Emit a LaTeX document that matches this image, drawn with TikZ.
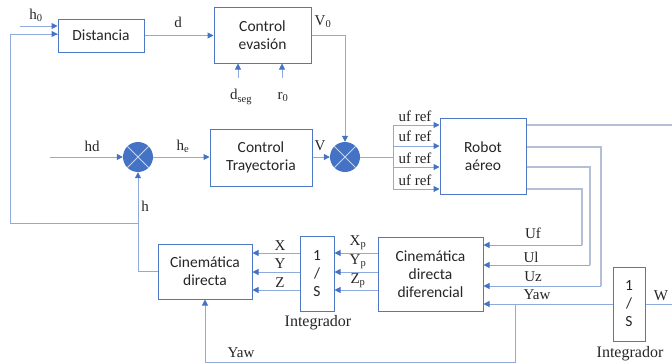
\documentclass[tikz,border=0pt]{standalone}
\usepackage{fontspec}
\setmainfont{Liberation Serif}
\newfontfamily\boxfont{Carlito}
\usetikzlibrary{arrows.meta}
\definecolor{boxblue}{HTML}{4F78C4}
\definecolor{linkblue}{HTML}{8FAADC}
\definecolor{tipblue}{HTML}{4472C4}
\definecolor{outgray}{HTML}{B4BFD6}
\definecolor{txt}{HTML}{262626}
\tikzset{
  x=1pt, y=-1pt,
  blockbox/.style={draw=boxblue, line width=1pt, fill=white, inner sep=0pt,
    align=center, font=\boxfont\fontsize{15.5}{18}\selectfont, text=txt},
  summer/.style={circle, fill=tipblue, minimum size=30pt, inner sep=0pt,
    path picture={\draw[white!70!tipblue, line width=0.8pt]
      (path picture bounding box.north west) -- (path picture bounding box.south east)
      (path picture bounding box.north east) -- (path picture bounding box.south west);}},
  link/.style={draw=linkblue, line width=1pt},
  arr/.style={link, -{Triangle[length=6pt,width=6pt,fill=tipblue,color=tipblue]}},
  outlink/.style={draw=outgray, line width=1.2pt},
  lbl/.style={font=\fontsize{15}{17}\selectfont, text=txt, inner sep=0pt},
}
\begin{document}
\begin{tikzpicture}
\useasboundingbox (0,0) rectangle (672,364);

% blocks
\node[blockbox, minimum width=86pt, minimum height=33pt] (dist) at (101,35.5) {Distancia};
\node[blockbox, minimum width=97pt, minimum height=56pt] (ce) at (262.5,35) {Control\\evasión};
\node[blockbox, minimum width=102pt, minimum height=57pt] (ct) at (261,157.5) {Control\\Trayectoria};
\node[blockbox, minimum width=86pt, minimum height=76pt] (ra) at (483,156) {Robot\\aéreo};
\node[blockbox, minimum width=94pt, minimum height=55pt] (cd) at (205,271.5) {Cinemática\\directa};
\node[blockbox, minimum width=34pt, minimum height=75pt] (i1) at (317,273.5) {1\\/\\S};
\node[blockbox, minimum width=105pt, minimum height=74pt] (df) at (430.5,274) {Cinemática\\directa\\diferencial};
\node[blockbox, minimum width=32pt, minimum height=74pt] (i2) at (629,304) {1\\/\\S};

% summing junctions
\node[summer] (s1) at (138,157) {};
\node[summer] (s2) at (345,157) {};

% free ends of the input and feedback lines
\coordinate (h0s) at (20,26);
\coordinate (hds) at (50,157);
\coordinate (fbl) at (10,223);
\coordinate (dsg) at (238,78);
\coordinate (rzo) at (282,78);
\coordinate (bus) at (393,157);
\coordinate (ybr) at (515,304);
\coordinate (ybot) at (515,362);

% top row
\draw[arr] (h0s) -- (dist.west |- h0s);
\draw[arr] (dist.east) -- (ce.west |- dist.east);
\draw[arr] (ce.east) -| (s2.north);
\draw[arr] (dsg) -- (ce.south -| dsg);
\draw[arr] (rzo) -- (ce.south -| rzo);

% middle row
\draw[arr] (hds) -- (s1.west);
\draw[arr] (s1.east) -- (ct.west |- s1.east);
\draw[arr] (ct.east |- s2.west) -- (s2.west);
\draw[link] (s2.east) -- (bus);
\draw[link] (393,125) -- (393,189);
\foreach \yy in {125,146,167,189}
  \draw[arr] (393,\yy) -- (ra.west |- 0,\yy);

% feedback of h
\draw[arr] (cd.west) -| (s1.south);
\draw[link] (s1.south |- fbl) -- (fbl) |- (dist.west |- 0,34);
\draw[arr] (10,34) -- (dist.west |- 0,34);

% robot outputs
\draw[outlink] (ra.east |- 0,125) -- (672,125);
\draw[outlink] (ra.east |- 0,147) -- (601,147) -- (601,286);
\draw[outlink] (ra.east |- 0,167) -- (590,167) -- (590,265);
\draw[outlink] (ra.east |- 0,189) -- (582,189) -- (582,245);
\draw[arr] (601,286) -- (df.east |- 0,286);
\draw[arr] (590,265) -- (df.east |- 0,265);
\draw[arr] (582,245) -- (df.east |- 0,245);

% yaw and its integrator
\draw[arr] (i2.west) -- (df.east |- i2.west);
\draw[link] (i2.east) -- (672,304);
\draw[link] (ybr) -- (ybot) -- (cd.south |- ybot);
\draw[arr] (cd.south |- ybot) -- (cd.south);

% positions
\foreach \yy in {253,272,290} {
  \draw[arr] (df.west |- 0,\yy) -- (i1.east |- 0,\yy);
  \draw[arr] (i1.west |- 0,\yy) -- (cd.east |- 0,\yy);
}

% labels
\node[lbl] (lh0) at (36,15) {h\textsubscript{0}};
\node[lbl] (ld) at (178,22) {d};
\node[lbl] (lv0) at (323,22) {V\textsubscript{0}};
\node[lbl] (lds) at (241,97) {d\textsubscript{seg}};
\node[lbl] (lr0) at (283,97) {r\textsubscript{0}};
\node[lbl] (lhd) at (92,146) {hd};
\node[lbl] (lhe) at (183,146) {h\textsubscript{e}};
\node[lbl] (lv) at (320,146) {V};
\node[lbl] (lh) at (145,206) {h};
\node[lbl] (uf1) at (415,116) {uf ref};
\node[lbl] (uf2) at (415,136) {uf ref};
\node[lbl] (uf3) at (415,158) {uf ref};
\node[lbl] (uf4) at (415,180) {uf ref};
\node[lbl] (luf) at (533,233) {Uf};
\node[lbl] (lul) at (531,257) {Ul};
\node[lbl] (luz) at (533,277) {Uz};
\node[lbl] (lyw) at (537,295) {Yaw};
\node[lbl] (lw) at (661,296) {W};
\node[lbl] (lx) at (280,246) {X};
\node[lbl] (ly) at (280,264) {Y};
\node[lbl] (lz) at (280,283) {Z};
\node[lbl] (lxp) at (358,243) {X\textsubscript{p}};
\node[lbl] (lyp) at (358,262) {Y\textsubscript{p}};
\node[lbl] (lzp) at (358,281) {Z\textsubscript{p}};
\node[lbl, font=\fontsize{16}{18}\selectfont] (li1) at (318,323) {Integrador};
\node[lbl, font=\fontsize{16}{18}\selectfont] (li2) at (630,354) {Integrador};
\node[lbl] (lyb) at (241,353) {Yaw};
\end{tikzpicture}
\end{document}
